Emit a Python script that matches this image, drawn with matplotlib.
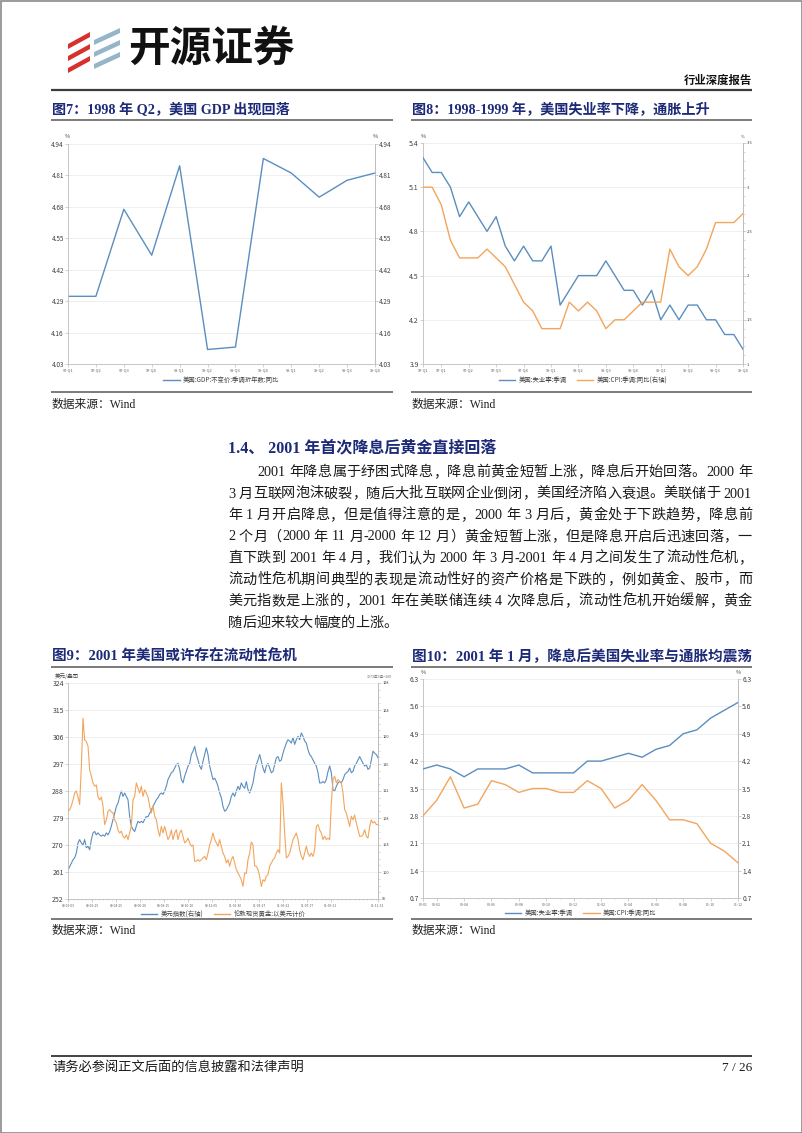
import numpy as np
import pandas as pd
import matplotlib
matplotlib.use('Agg')
import matplotlib.pyplot as plt
from matplotlib.lines import Line2D
from matplotlib.patches import Rectangle, Polygon
from matplotlib.ticker import MultipleLocator

W, H = 802, 1133
CJK = 'Noto Sans CJK SC'
plt.rcParams['font.family'] = [CJK, 'DejaVu Sans']
SERIF = ['Liberation Serif', CJK]
NAVY = '#1d2a78'
BLUE = '#5a8ebf'
ORANGE = '#f2a55c'
GRID = '#ededed'
SPINE = '#bdbdbd'
TXT = '#404040'

# ---------------- data ----------------
# Fig 7: US GDP (constant price, SAAR) yoy, %
gdp_quarters = ['97-Q1', '97-Q2', '97-Q3', '97-Q4', '98-Q1', '98-Q2',
                '98-Q3', '98-Q4', '99-Q1', '99-Q2', '99-Q3', '99-Q4']
gdp_yoy = [4.31, 4.31, 4.67, 4.48, 4.85, 4.09, 4.10, 4.88, 4.82, 4.72, 4.79, 4.82]
gdp_ticks = [4.03, 4.16, 4.29, 4.42, 4.55, 4.68, 4.81, 4.94]

# Fig 8: monthly 1997-01 .. 1999-12
unemp_9799 = [5.3, 5.2, 5.2, 5.1, 4.9, 5.0, 4.9, 4.8, 4.9, 4.7, 4.6, 4.7,
              4.6, 4.6, 4.7, 4.3, 4.4, 4.5, 4.5, 4.5, 4.6, 4.5, 4.4, 4.4,
              4.3, 4.4, 4.2, 4.3, 4.2, 4.3, 4.3, 4.2, 4.2, 4.1, 4.1, 4.0]
cpi_9799 = [3.0, 3.0, 2.8, 2.4, 2.2, 2.2, 2.2, 2.3, 2.2, 2.1, 1.9, 1.7,
            1.6, 1.4, 1.4, 1.4, 1.7, 1.6, 1.7, 1.6, 1.4, 1.5, 1.5, 1.6,
            1.7, 1.7, 1.7, 2.3, 2.1, 2.0, 2.1, 2.3, 2.6, 2.6, 2.6, 2.7]
c8_tick_idx = [0, 2, 5, 8, 11, 14, 17, 20, 23, 26, 29, 32, 35]
c8_tick_labels = ['97-Q1', '97-Q1', '97-Q2', '97-Q3', '97-Q4', '98-Q1', '98-Q2',
                  '98-Q3', '98-Q4', '99-Q1', '99-Q2', '99-Q3', '99-Q4']
c8_left_ticks = [3.9, 4.2, 4.5, 4.8, 5.1, 5.4]
c8_right_ticks = [1.0, 1.5, 2.0, 2.5, 3.0, 3.5]
c8_right_labels = ['1', '1.5', '2', '2.5', '3', '3.5']

# Fig 9: London spot gold (USD/oz, left) and US dollar index (right), 2000-01-03 .. 2001-12-31
gold_0001 = [281.2, 281.8, 283.0, 285.0, 287.3, 288.0, 286.0, 283.5, 296.0, 312.3,
             305.0, 304.5, 303.0, 295.0, 293.0, 290.7, 289.6, 290.0, 286.0, 285.0,
             286.0, 283.0, 276.8, 278.4, 281.2, 281.8, 281.0, 280.7, 278.4, 277.3,
             275.0, 274.0, 274.6, 272.9, 272.3, 273.4, 271.8, 274.0, 276.2, 285.0,
             286.2, 290.7, 289.0, 287.3, 289.6, 286.2, 288.4, 287.3, 286.0, 283.0,
             280.7, 283.0, 279.6, 278.4, 275.0, 272.9, 276.2, 274.0, 276.2, 274.0,
             271.8, 272.9, 275.0, 271.8, 274.0, 275.1, 271.8, 274.0, 275.0, 272.9,
             270.7, 271.2, 272.3, 270.7, 269.6, 270.0, 264.6, 264.6, 265.1, 264.6,
             265.1, 265.7, 266.2, 265.1, 267.3, 270.0, 271.8, 274.0, 271.8, 270.7,
             269.6, 271.8, 269.6, 267.3, 266.2, 264.0, 265.1, 262.9, 265.1, 266.2,
             264.0, 261.8, 260.7, 259.6, 258.4, 256.2, 260.7, 260.5, 265.1, 267.3,
             271.0, 270.0, 263.0, 262.9, 261.8, 259.6, 256.2, 258.4, 257.9, 259.6,
             260.1, 262.9, 264.0, 265.1, 265.7, 267.3, 268.4, 267.3, 290.7, 284.0,
             274.0, 265.7, 266.2, 267.3, 269.6, 271.8, 272.9, 274.0, 271.8, 268.4,
             266.2, 265.1, 267.3, 269.6, 267.3, 266.2, 267.3, 266.2, 268.4, 276.2,
             276.8, 275.0, 274.0, 271.8, 272.9, 271.8, 272.3, 271.8, 284.0, 291.8,
             292.9, 290.7, 291.8, 291.2, 290.7, 287.3, 281.8, 280.7, 278.4, 276.2,
             279.6, 278.4, 280.0, 277.3, 275.1, 272.9, 272.9, 273.4, 275.1, 272.9,
             272.3, 276.2, 278.4, 277.3, 277.8, 276.8, 276.8]
usd_index_0001 = [100.3, 100.8, 101.3, 101.8, 102.1, 102.8, 104.3, 104.8, 104.3, 104.0,
                  104.8, 103.6, 103.8, 103.3, 104.8, 105.8, 106.0, 105.5, 105.8, 105.5,
                  105.3, 105.5, 105.3, 105.8, 105.5, 106.0, 106.8, 107.8, 108.7, 109.7,
                  110.2, 111.2, 112.0, 111.2, 111.7, 111.2, 110.7, 108.2, 106.8, 106.3,
                  106.0, 106.8, 107.5, 107.3, 107.5, 107.3, 107.8, 108.2, 108.2, 108.7,
                  109.2, 109.7, 110.2, 110.7, 111.0, 111.5, 111.7, 111.5, 112.0, 112.7,
                  113.7, 114.2, 114.7, 114.9, 115.4, 115.9, 116.1, 115.2, 113.7, 113.2,
                  114.2, 114.9, 115.7, 116.1, 117.4, 117.9, 118.6, 117.4, 116.6, 115.7,
                  115.2, 116.4, 117.4, 118.4, 117.4, 115.7, 114.7, 113.7, 113.9, 113.4,
                  112.7, 111.7, 111.0, 109.7, 109.0, 109.2, 109.7, 110.2, 111.2, 111.7,
                  111.2, 112.0, 112.7, 112.2, 113.2, 112.7, 112.4, 113.4, 112.2, 111.7,
                  112.4, 113.2, 114.7, 115.9, 116.6, 117.4, 116.4, 115.4, 114.7, 115.7,
                  116.1, 115.4, 114.7, 114.9, 115.9, 116.9, 117.1, 116.4, 116.6, 117.6,
                  118.4, 119.1, 119.6, 119.4, 119.1, 119.9, 118.9, 119.6, 120.1, 119.6,
                  120.6, 120.1, 119.4, 119.1, 118.1, 117.4, 117.1, 116.6, 116.1, 115.7,
                  114.7, 113.2, 113.2, 113.4, 113.2, 113.7, 114.9, 115.7, 114.7, 112.2,
                  112.0, 112.7, 113.2, 113.4, 113.2, 113.7, 114.4, 114.7, 114.9, 115.4,
                  114.7, 114.9, 115.7, 116.1, 116.6, 117.1, 116.6, 116.1, 115.7, 115.9,
                  115.2, 115.4, 116.6, 117.9, 117.6, 117.4, 116.9]
c9_start, c9_end = '2000-01-03', '2001-12-31'
c9_tick_labels = ['00-01-03', '00-02-29', '00-04-25', '00-06-20', '00-08-15', '00-10-10',
                  '00-12-05', '01-01-30', '01-03-27', '01-05-22', '01-07-17', '01-09-11',
                  '01-12-31']
c9_left_ticks = [252, 261, 270, 279, 288, 297, 306, 315, 324]
c9_right_ticks = [96, 100, 104, 108, 112, 116, 120, 124, 128]

# Fig 10: monthly 2000-01 .. 2001-12
unemp_0001 = [4.0, 4.1, 4.0, 3.8, 4.0, 4.0, 4.0, 4.1, 3.9, 3.9, 3.9, 3.9,
              4.2, 4.2, 4.3, 4.4, 4.3, 4.5, 4.6, 4.9, 5.0, 5.3, 5.5, 5.7]
cpi_0001 = [2.8, 3.2, 3.8, 3.0, 3.1, 3.7, 3.6, 3.4, 3.5, 3.5, 3.4, 3.4,
            3.7, 3.5, 3.0, 3.2, 3.6, 3.2, 2.7, 2.7, 2.6, 2.1, 1.9, 1.6]
c10_tick_idx = [0, 1, 3, 5, 7, 9, 11, 13, 15, 17, 19, 21, 23]
c10_tick_labels = ['00-01', '00-02', '00-04', '00-06', '00-08', '00-10', '00-12',
                   '01-02', '01-04', '01-06', '01-08', '01-10', '01-12']
c10_ticks = [0.7, 1.4, 2.1, 2.8, 3.5, 4.2, 4.9, 5.6, 6.3]

body_lines = [
    '2001 年降息属于纾困式降息，降息前黄金短暂上涨，降息后开始回落。2000 年',
    '3 月互联网泡沫破裂，随后大批互联网企业倒闭，美国经济陷入衰退。美联储于 2001',
    '年 1 月开启降息，但是值得注意的是，2000 年 3 月后，黄金处于下跌趋势，降息前',
    '2 个月（2000 年 11 月-2000 年 12 月）黄金短暂上涨，但是降息开启后迅速回落，一',
    '直下跌到 2001 年 4 月，我们认为 2000 年 3 月-2001 年 4 月之间发生了流动性危机，',
    '流动性危机期间典型的表现是流动性好的资产价格是下跌的，例如黄金、股市，而',
    '美元指数是上涨的，2001 年在美联储连续 4 次降息后，流动性危机开始缓解，黄金',
    '随后迎来较大幅度的上涨。',
]

# ---------------- page ----------------
fig = plt.figure(figsize=(W / 100, H / 100), dpi=100)
fig.patch.set_facecolor('white')
bg = fig.add_axes([0, 0, 1, 1])
bg.set_xlim(0, W)
bg.set_ylim(H, 0)
bg.axis('off')
renderer = fig.canvas.get_renderer()

bg.add_patch(Rectangle((0.5, 0.5), W - 1, H - 1, fill=False, ec='#8a8a8a', lw=1.2))

# logo stripes
RED = '#d8312c'
LB = '#95b6c9'
for yb in [44, 56, 68]:
    bg.add_patch(Polygon([(68, yb), (90, yb - 12), (90, yb - 7), (68, yb + 5)],
                         closed=True, fc=RED, ec='none'))
for yb in [40, 52, 64]:
    bg.add_patch(Polygon([(94, yb), (120, yb - 12), (120, yb - 7), (94, yb + 5)],
                         closed=True, fc=LB, ec='none'))
bg.text(128, 50, '开源证券', fontsize=30, fontweight='bold', family=[CJK],
        va='center', ha='left', color='#111111')
bg.text(752, 84, '行业深度报告', fontsize=8.2, fontweight='bold', family=SERIF,
        va='baseline', ha='right', color='#111111')
bg.plot([51, 752], [89.5, 89.5], color='#3c3c3c', lw=1.6, solid_capstyle='butt')

def rule(x0, x1, y, c='#7a7a7a', lw=1.4):
    bg.plot([x0, x1], [y, y], color=c, lw=lw, solid_capstyle='butt')

# titles
bg.text(52, 114, '图7：1998 年 Q2，美国 GDP 出现回落', fontsize=10.2, fontweight='bold',
        family=SERIF, color=NAVY, va='baseline')
bg.text(412, 114, '图8：1998-1999 年，美国失业率下降，通胀上升', fontsize=10.2,
        fontweight='bold', family=SERIF, color=NAVY, va='baseline')
rule(51, 393, 120)
rule(411, 752, 120)
rule(51, 393, 392)
rule(411, 752, 392)
bg.text(52, 408, '数据来源：Wind', fontsize=8.5, family=SERIF, color='#222', va='baseline')
bg.text(412, 408, '数据来源：Wind', fontsize=8.5, family=SERIF, color='#222', va='baseline')

bg.text(228, 452, '1.4、 2001 年首次降息后黄金直接回落', fontsize=11.5, fontweight='bold',
        family=SERIF, color=NAVY, va='baseline')

def tokenize(text):
    toks = []
    sp = 0
    for ch in text:
        if ch == ' ':
            sp += 1
            continue
        if ord(ch) < 128 and toks and sp == 0 and ord(toks[-1][0][-1]) < 128:
            toks[-1][0] += ch
        else:
            toks.append([ch, sp])
        sp = 0
    return toks

def text_line(text, x0, x1, yb, size, justify=True):
    toks = tokenize(text)
    arts, widths = [], []
    for s, sp in toks:
        t = bg.text(0, yb, s, fontsize=size, family=SERIF, va='baseline', ha='left',
                    color='#1a1a1a')
        arts.append(t)
        widths.append(t.get_window_extent(renderer).width)
    space_w = size * 100 / 72 * 0.25
    natural = sum(widths) + sum(sp for _, sp in toks) * space_w
    n = len(toks) - 1
    extra = (x1 - x0 - natural) / n if (justify and n > 0) else 0.0
    x = x0
    for i, (t, (s, sp)) in enumerate(zip(arts, toks)):
        if i > 0:
            x += extra + sp * space_w
        t.set_x(x)
        x += widths[i]

BODY = 10.2
line_y0, line_dy = 476, 21.5
for i, ln in enumerate(body_lines):
    x0 = 228 + (29 if i == 0 else 0)
    text_line(ln, x0, 752, line_y0 + i * line_dy, BODY, justify=(i < len(body_lines) - 1))

bg.text(52, 661, '图9：2001 年美国或许存在流动性危机', fontsize=10.5, fontweight='bold',
        family=SERIF, color=NAVY, va='baseline')
bg.text(412, 661, '图10：2001 年 1 月，降息后美国失业率与通胀均震荡', fontsize=10.5,
        fontweight='bold', family=SERIF, color=NAVY, va='baseline')
rule(51, 393, 667)
rule(411, 752, 667)
rule(51, 393, 919)
rule(411, 752, 919)
bg.text(52, 934, '数据来源：Wind', fontsize=8.5, family=SERIF, color='#222', va='baseline')
bg.text(412, 934, '数据来源：Wind', fontsize=8.5, family=SERIF, color='#222', va='baseline')

rule(51, 752, 1056, c='#222222', lw=1.2)
bg.text(52, 1071, '请务必参阅正文后面的信息披露和法律声明', fontsize=9.5, family=SERIF,
        color='#1a1a1a', va='baseline')
bg.text(752, 1071, '7 / 26', fontsize=9.5, family=SERIF, color='#1a1a1a', va='baseline',
        ha='right')

# ---------------- charts ----------------
def px_axes(l, t, r, b):
    ax = fig.add_axes([l / W, 1 - b / H, (r - l) / W, (b - t) / H])
    ax.set_facecolor('white')
    return ax

def style(ax, ylsize, xlsize):
    ax.spines['top'].set_visible(False)
    for s in ['left', 'right', 'bottom']:
        ax.spines[s].set_color(SPINE)
        ax.spines[s].set_linewidth(0.6)
    ax.tick_params(axis='y', labelsize=ylsize, colors=TXT, length=2, width=0.5, pad=1,
                   color=SPINE)
    ax.tick_params(axis='x', labelsize=xlsize, colors='#606060', length=2, width=0.5,
                   pad=1.5, color=SPINE)
    ax.yaxis.grid(True, color=GRID, lw=0.6)
    ax.set_axisbelow(True)

def right_axis(ax, ylsize):
    r = ax.twinx()
    for s in ['left', 'top', 'bottom']:
        r.spines[s].set_visible(False)
    r.spines['right'].set_color(SPINE)
    r.spines['right'].set_linewidth(0.6)
    r.tick_params(axis='y', labelsize=ylsize, colors=TXT, length=2, width=0.5, pad=1,
                  color=SPINE)
    r.tick_params(axis='y', which='minor', length=1.2, width=0.4, color=SPINE)
    return r

def legend(ax, handles, labels, y=-0.03, size=4.6):
    ax.legend(handles, labels, loc='upper center', bbox_to_anchor=(0.5, y), ncol=2,
              frameon=False, fontsize=size, handlelength=2.6, handletextpad=0.5,
              columnspacing=1.6, labelcolor='#404040')

# Fig 7
ax7 = px_axes(68, 144, 375, 364)
style(ax7, 4.6, 2.8)
x7 = np.arange(len(gdp_quarters))
ax7.plot(x7, gdp_yoy, color=BLUE, lw=1.0)
ax7.set_xlim(x7[0], x7[-1])
ax7.set_ylim(gdp_ticks[0], gdp_ticks[-1])
ax7.set_yticks(gdp_ticks)
ax7.set_yticklabels([f'{v:.2f}' for v in gdp_ticks])
ax7.set_xticks(x7)
ax7.set_xticklabels(gdp_quarters)
r7 = right_axis(ax7, 4.6)
r7.set_ylim(gdp_ticks[0], gdp_ticks[-1])
r7.set_yticks(gdp_ticks)
r7.set_yticklabels([f'{v:.2f}' for v in gdp_ticks])
legend(ax7, [Line2D([], [], color=BLUE, lw=1.0)], ['美国:GDP:不变价:季调折年数:同比'])
bg.text(67, 139, '%', fontsize=4, color=TXT, ha='center', va='bottom')
bg.text(375, 139, '%', fontsize=4, color=TXT, ha='center', va='bottom')

# Fig 8
ax8 = px_axes(423, 143, 743, 364)
style(ax8, 5.0, 2.8)
x8 = np.arange(len(unemp_9799))
ax8.plot(x8, unemp_9799, color=BLUE, lw=1.0, zorder=3)
ax8.set_xlim(x8[0], x8[-1])
ax8.set_ylim(c8_left_ticks[0], c8_left_ticks[-1])
ax8.set_yticks(c8_left_ticks)
ax8.set_xticks(c8_tick_idx)
ax8.set_xticklabels(c8_tick_labels)
r8 = right_axis(ax8, 3.0)
r8.plot(x8, cpi_9799, color=ORANGE, lw=1.0)
r8.set_ylim(c8_right_ticks[0], c8_right_ticks[-1])
r8.set_yticks(c8_right_ticks)
r8.set_yticklabels(c8_right_labels)
r8.yaxis.set_minor_locator(MultipleLocator(0.1))
legend(ax8, [Line2D([], [], color=BLUE, lw=1.0), Line2D([], [], color=ORANGE, lw=1.0)],
       ['美国:失业率:季调', '美国:CPI:季调:同比(右轴)'])
bg.text(423, 139, '%', fontsize=4, color=TXT, ha='center', va='bottom')
bg.text(743, 139, '%', fontsize=3, color=TXT, ha='center', va='bottom')

# Fig 9
ax9 = px_axes(68, 683, 378, 899)
style(ax9, 5.0, 2.4)
x9 = pd.date_range(c9_start, c9_end, periods=len(gold_0001))
ax9.plot(x9, gold_0001, color=ORANGE, lw=0.8, zorder=3)
ax9.set_xlim(x9[0], x9[-1])
ax9.set_ylim(c9_left_ticks[0], c9_left_ticks[-1])
ax9.set_yticks(c9_left_ticks)
tick_dates = pd.to_datetime(['20' + s for s in c9_tick_labels])
ax9.set_xticks(tick_dates)
ax9.set_xticklabels(c9_tick_labels)
ax9.xaxis.set_minor_locator(matplotlib.dates.DayLocator(interval=10))
ax9.tick_params(axis='x', which='minor', length=1, width=0.4, color=SPINE)
r9 = right_axis(ax9, 2.8)
r9.plot(x9, usd_index_0001, color=BLUE, lw=0.8)
r9.set_ylim(c9_right_ticks[0], c9_right_ticks[-1])
r9.set_yticks(c9_right_ticks)
r9.yaxis.set_minor_locator(MultipleLocator(1))
ax9.set_zorder(r9.get_zorder() + 1)
ax9.patch.set_visible(False)
legend(ax9, [Line2D([], [], color=BLUE, lw=1.0), Line2D([], [], color=ORANGE, lw=1.0)],
       ['美元指数(右轴)', '伦敦现货黄金:以美元计价'], y=-0.025)
bg.text(55, 679, '美元/盎司', fontsize=4, color=TXT, ha='left', va='bottom')
bg.text(392, 679, '1973年3月=100', fontsize=2.6, color='#707070', ha='right', va='bottom')

# Fig 10
ax10 = px_axes(423, 679, 738, 898)
style(ax10, 4.8, 2.6)
x10 = np.arange(len(unemp_0001))
ax10.plot(x10, unemp_0001, color=BLUE, lw=1.0, zorder=3)
ax10.plot(x10, cpi_0001, color=ORANGE, lw=1.0, zorder=3)
ax10.set_xlim(x10[0], x10[-1])
ax10.set_ylim(c10_ticks[0], c10_ticks[-1])
ax10.set_yticks(c10_ticks)
ax10.set_xticks(c10_tick_idx)
ax10.set_xticklabels(c10_tick_labels)
ax10.xaxis.set_minor_locator(MultipleLocator(1))
ax10.tick_params(axis='x', which='minor', length=1, width=0.4, color=SPINE)
r10 = right_axis(ax10, 4.8)
r10.set_ylim(c10_ticks[0], c10_ticks[-1])
r10.set_yticks(c10_ticks)
legend(ax10, [Line2D([], [], color=BLUE, lw=1.0), Line2D([], [], color=ORANGE, lw=1.0)],
       ['美国:失业率:季调', '美国:CPI:季调:同比'], y=-0.025)
bg.text(423, 675, '%', fontsize=4, color=TXT, ha='center', va='bottom')
bg.text(738, 675, '%', fontsize=4, color=TXT, ha='center', va='bottom')

fig.savefig('out.png', dpi=100, facecolor='white')
